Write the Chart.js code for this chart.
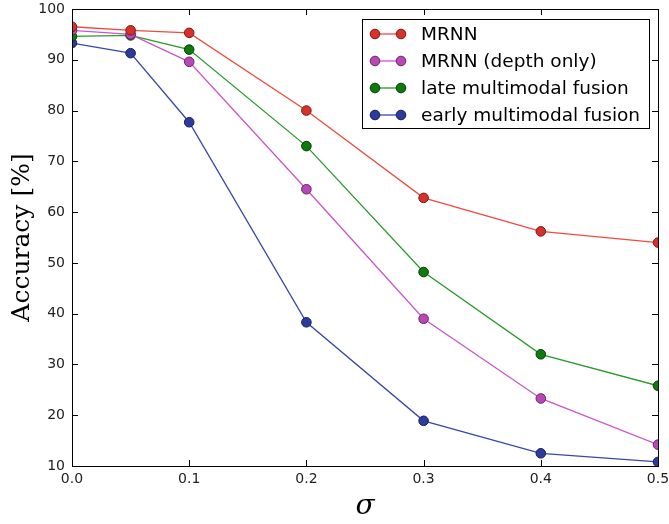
<!DOCTYPE html>
<html lang="en">
<head>
    <meta charset="UTF-8">
    <title>Accuracy vs sigma</title>
    <script src="https://cdn.jsdelivr.net/npm/chart.js"></script>
    <style>
        body { margin: 0; background: #fff; }
        #wrap { width: 669px; height: 524px; }
    </style>
</head>
<body>
    <div id="wrap"><canvas id="accChart" width="669" height="524"></canvas></div>

    <script>
        // data
        const sigmas = [0.0, 0.05, 0.1, 0.2, 0.3, 0.4, 0.5];
        const mrnn = [96.5, 95.8, 95.3, 80.0, 62.8, 56.2, 54.0];
        const mrnnDepth = [95.8, 95.0, 89.6, 64.5, 39.0, 23.3, 14.2];
        const lateFusion = [94.6, 94.8, 92.0, 73.0, 48.2, 32.0, 25.8];
        const earlyFusion = [93.3, 91.3, 77.7, 38.3, 18.9, 12.5, 10.8];
        const xTicks = [0, 0.1, 0.2, 0.3, 0.4, 0.5];
        const seriesNames = ['MRNN', 'MRNN (depth only)', 'late multimodal fusion', 'early multimodal fusion'];

        const toPoints = vals => vals.map((v, i) => ({ x: sigmas[i], y: v }));

        const mkSet = (label, vals, line, fill, edge) => ({
            label: label,
            data: toPoints(vals),
            borderColor: line,
            backgroundColor: fill,
            pointBackgroundColor: fill,
            pointBorderColor: edge,
            pointBorderWidth: 1,
            pointRadius: 4.8,
            borderWidth: 1.3,
            tension: 0
        });

        // matplotlib-style frame, inward ticks and in-plot legend
        const framePlugin = {
            id: 'frame',
            afterDraw(chart) {
                const ctx = chart.ctx;
                const a = chart.chartArea;
                const xs = chart.scales.x, ys = chart.scales.y;
                ctx.save();
                ctx.strokeStyle = '#000';
                ctx.lineWidth = 1;
                ctx.beginPath();
                xs.ticks.forEach(t => {
                    const px = Math.round(xs.getPixelForValue(t.value)) + 0.5;
                    ctx.moveTo(px, a.bottom); ctx.lineTo(px, a.bottom - 6);
                    ctx.moveTo(px, a.top); ctx.lineTo(px, a.top + 6);
                });
                ys.ticks.forEach(t => {
                    const py = Math.round(ys.getPixelForValue(t.value)) + 0.5;
                    ctx.moveTo(a.left, py); ctx.lineTo(a.left + 6, py);
                    ctx.moveTo(a.right, py); ctx.lineTo(a.right - 6, py);
                });
                ctx.stroke();
                ctx.strokeRect(Math.round(a.left) + 0.5, Math.round(a.top) + 0.5,
                    Math.round(a.right - a.left), Math.round(a.bottom - a.top));

                // legend
                const bx = 362.5, by = 19.5, bw = 287, bh = 109;
                ctx.fillStyle = '#fff';
                ctx.fillRect(bx, by, bw, bh);
                ctx.strokeRect(bx, by, bw, bh);
                ctx.font = '18.5px "DejaVu Sans", sans-serif';
                ctx.textBaseline = 'middle';
                chart.data.datasets.forEach((ds, i) => {
                    const yy = 34 + i * 27;
                    ctx.strokeStyle = ds.borderColor;
                    ctx.lineWidth = 1.3;
                    ctx.beginPath();
                    ctx.moveTo(375, yy); ctx.lineTo(401, yy);
                    ctx.stroke();
                    [375, 401].forEach(mx => {
                        ctx.beginPath();
                        ctx.arc(mx, yy, 4.8, 0, Math.PI * 2);
                        ctx.fillStyle = ds.pointBackgroundColor;
                        ctx.fill();
                        ctx.strokeStyle = ds.pointBorderColor;
                        ctx.lineWidth = 1;
                        ctx.stroke();
                    });
                    ctx.fillStyle = '#000';
                    ctx.fillText(ds.label, 421, yy + 1);
                });
                ctx.restore();
            }
        };

        new Chart(document.getElementById('accChart'), {
            type: 'line',
            data: {
                datasets: [
                    mkSet(seriesNames[0], mrnn, '#f04a40', '#d8302a', '#7a1a14'),
                    mkSet(seriesNames[1], mrnnDepth, '#cc55c8', '#b848b4', '#6a2468'),
                    mkSet(seriesNames[2], lateFusion, '#2a9a2a', '#0c7a0c', '#063e06'),
                    mkSet(seriesNames[3], earlyFusion, '#3848a8', '#2c3c9c', '#141e5a')
                ]
            },
            plugins: [framePlugin],
            options: {
                responsive: false,
                animation: false,
                layout: { padding: { top: 9, right: 11, left: 0, bottom: 0 } },
                plugins: {
                    legend: { display: false },
                    tooltip: { enabled: false }
                },
                scales: {
                    x: {
                        type: 'linear',
                        min: 0, max: 0.5,
                        afterFit(s) { s.height = 58; s.paddingRight = 0; s.paddingLeft = 0; },
                        afterBuildTicks(s) { s.ticks = xTicks.map(v => ({ value: v })); },
                        grid: { display: false, drawTicks: false },
                        border: { display: false },
                        ticks: {
                            color: '#222',
                            padding: 5,
                            maxRotation: 0,
                            autoSkip: false,
                            font: { family: '"DejaVu Sans", sans-serif', size: 14 },
                            callback: v => v.toFixed(1)
                        },
                        title: {
                            display: true,
                            text: 'σ',
                            color: '#000',
                            padding: { top: 13, bottom: 0 },
                            font: { family: '"DejaVu Serif", serif', size: 28, style: 'italic' }
                        }
                    },
                    y: {
                        min: 10, max: 100,
                        afterFit(s) { s.width = 72; s.paddingTop = 0; s.paddingBottom = 0; },
                        grid: { display: false, drawTicks: false },
                        border: { display: false },
                        ticks: {
                            stepSize: 10,
                            color: '#222',
                            padding: 7,
                            font: { family: '"DejaVu Sans", sans-serif', size: 14 }
                        },
                        title: {
                            display: true,
                            text: 'Accuracy [%]',
                            color: '#000',
                            padding: { top: 7, bottom: 0 },
                            font: { family: '"DejaVu Serif", serif', size: 25 }
                        }
                    }
                }
            }
        });
    </script>
</body>
</html>
